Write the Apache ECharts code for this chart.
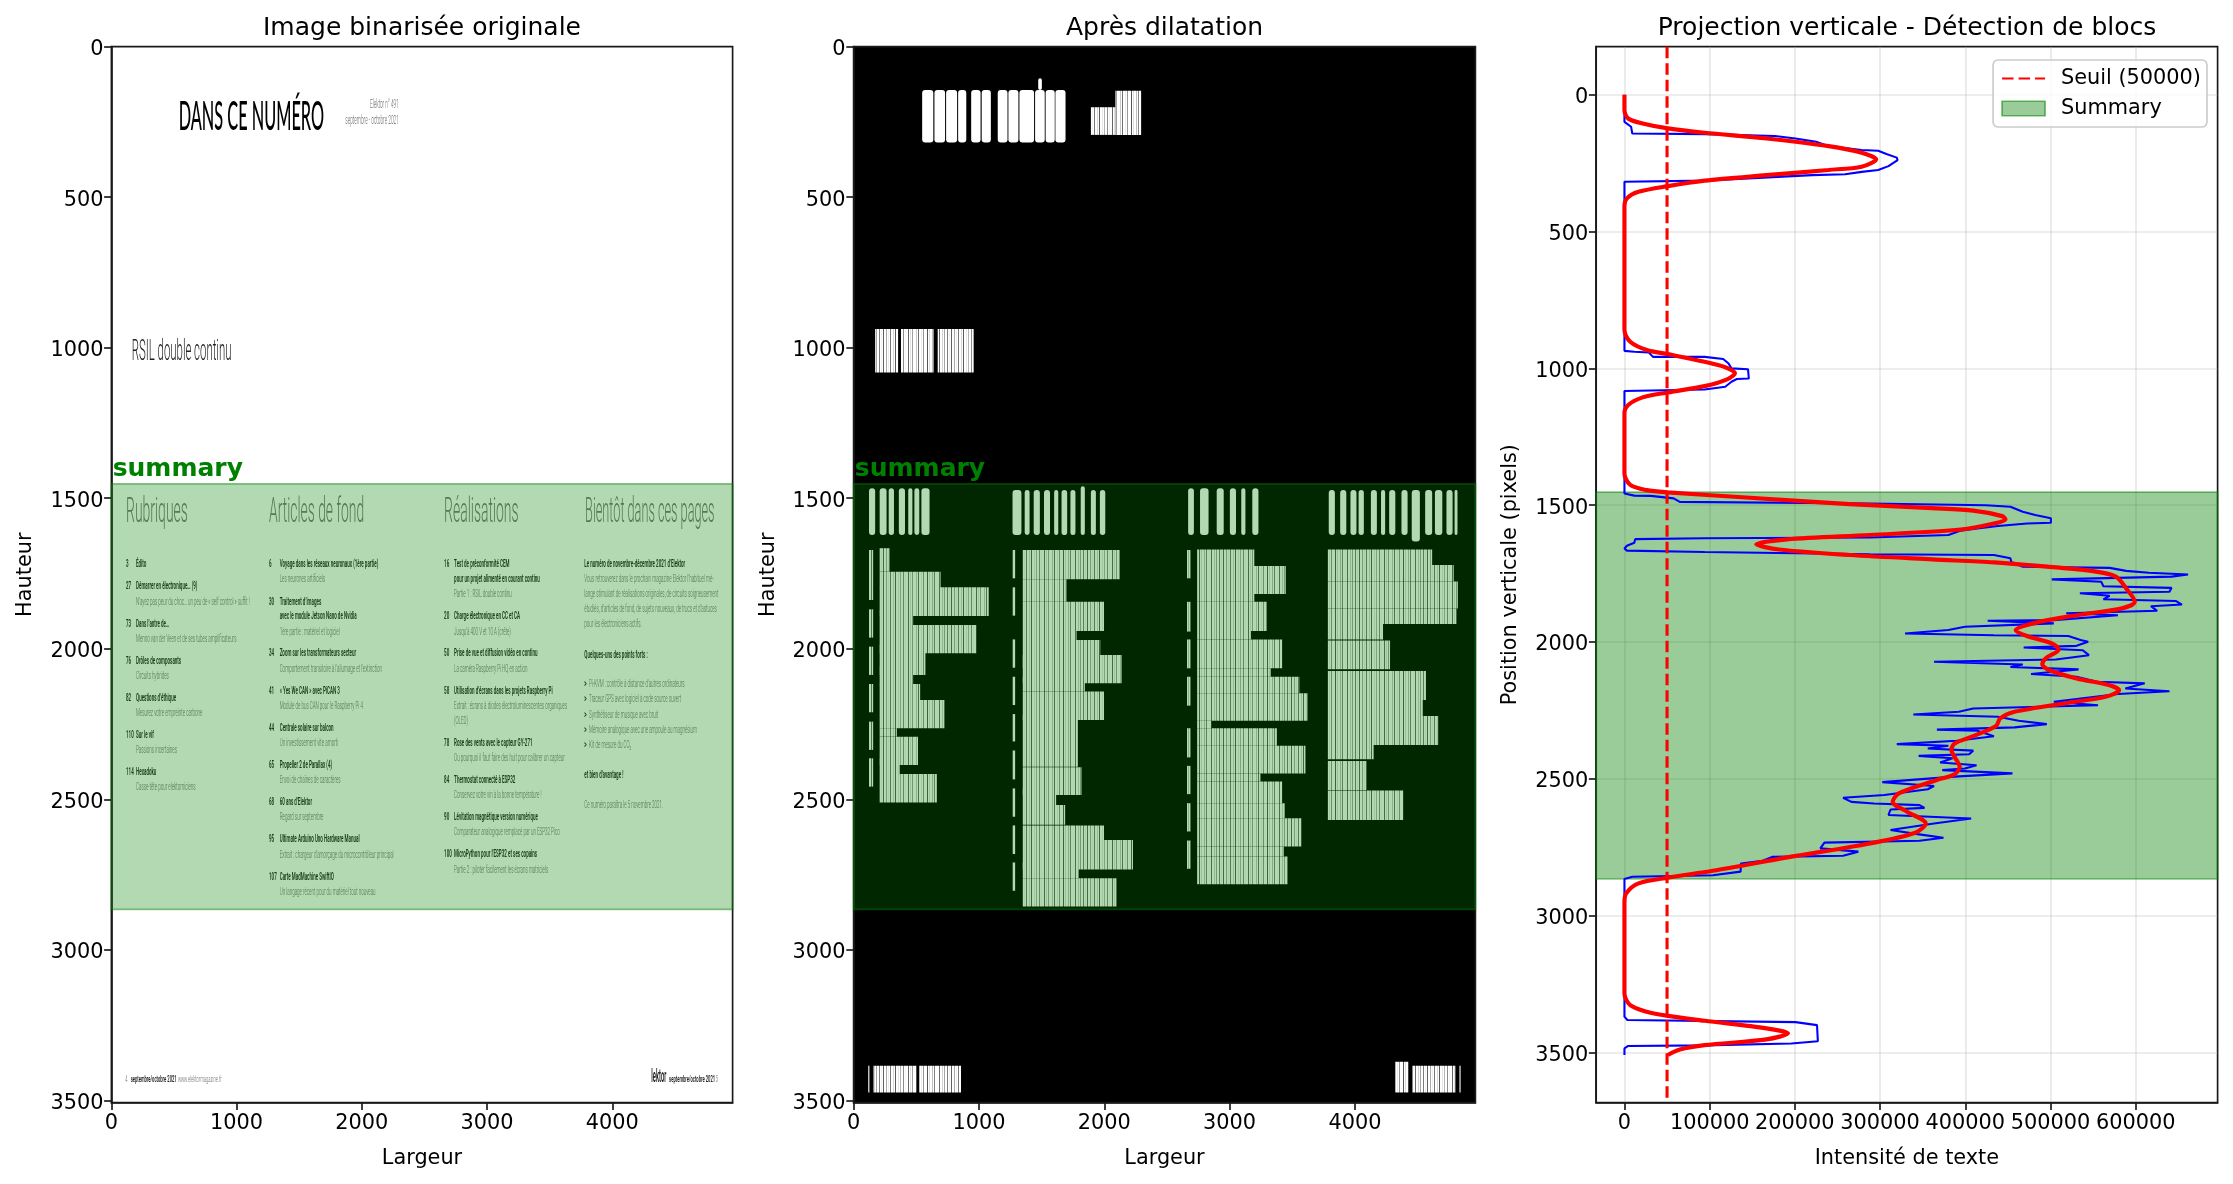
<!DOCTYPE html>
<html><head><meta charset="utf-8">
<style>html,body{margin:0;padding:0;background:#fff}#c{width:2233px;height:1184px}</style>
<script src="https://cdn.jsdelivr.net/npm/echarts@6/dist/echarts.min.js"></script>
</head><body><div id="c"></div>
<script>
const PAGE_W = 4961, PAGE_H = 3508;
const SUMMARY = [1452, 2866];
const THRESHOLD = 50000;
const pageXTicks = [0, 1000, 2000, 3000, 4000];
const pageYTicks = [0, 500, 1000, 1500, 2000, 2500, 3000, 3500];
const profXTicks = [0, 100000, 200000, 300000, 400000, 500000, 600000];
const profYTicks = [0, 500, 1000, 1500, 2000, 2500, 3000, 3500];
const PROF_X = [-33150, 696150];
const PROF_Y = [-175.4, 3683.4];

// Page text: [x, y centre, text, size in page units, kind, optional width factor]
const topTexts = [
  [537, 234, 'DANS CE NUMÉRO', 133, 'title', 0.98],
  [2295, 194, 'Elektor n° 491', 44, 'faintR', 0.86],
  [2295, 246, 'septembre - octobre 2021', 44, 'faintR', 0.86],
  [162, 1017, 'RSIL double continu', 98, 'rsil', 0.93]
];
const headings = [
  [117, 1551, 'Rubriques', 116, 'head', 0.96],
  [1259, 1551, 'Articles de fond', 116, 'head', 0.955],
  [2657, 1551, 'Réalisations', 116, 'head', 0.96],
  [3783, 1551, 'Bientôt dans ces pages', 116, 'head', 0.875]
];
const column1 = [
  [117,1720,'3',36,'bold'],[197,1720,'Édito',36,'bold'],
  [117,1794,'27',36,'bold'],[197,1794,'Démarrer en électronique… (9)',36,'bold'],
  [197,1844,'N’ayez pas peur du choc… un peu de « self control » suffit !',36,'sub'],
  [117,1918,'73',36,'bold'],[197,1918,'Dans l’antre de…',36,'bold'],
  [197,1969,'Menno van der Veen et de ses tubes amplificateurs',36,'sub'],
  [117,2041,'76',36,'bold'],[197,2041,'Drôles de composants',36,'bold'],
  [197,2090,'Circuits hybrides',36,'sub'],
  [117,2165,'82',36,'bold'],[197,2165,'Questions d’éthique',36,'bold'],
  [197,2214,'Mesurez votre empreinte carbone',36,'sub'],
  [117,2289,'110',36,'bold'],[197,2289,'Sur le vif',36,'bold'],
  [197,2337,'Passions incertaines',36,'sub'],
  [117,2411,'114',36,'bold'],[197,2411,'Hexadoku',36,'bold'],
  [197,2461,'Casse-tête pour elektorniciens',36,'sub']
];
const column2 = [
  [1259,1720,'6',36,'bold'],[1344,1720,'Voyage dans les réseaux neuronaux (1ère partie)',36,'bold'],
  [1344,1769,'Les neurones artificiels',36,'sub'],
  [1259,1844,'30',36,'bold'],[1344,1844,'Traitement d’images',36,'bold'],
  [1344,1893,'avec le module Jetson Nano de Nvidia',36,'bold'],
  [1344,1944,'1ère partie : matériel et logiciel',36,'sub'],
  [1259,2016,'34',36,'bold'],[1344,2016,'Zoom sur les transformateurs secteur',36,'bold'],
  [1344,2067,'Comportement transitoire à l’allumage et l’extinction',36,'sub'],
  [1259,2140,'41',36,'bold'],[1344,2140,'« Yes We CAN » avec PiCAN 3',36,'bold'],
  [1344,2190,'Module de bus CAN pour le Raspberry Pi 4',36,'sub'],
  [1259,2264,'44',36,'bold'],[1344,2264,'Centrale solaire sur balcon',36,'bold'],
  [1344,2314,'Un investissement vite amorti',36,'sub'],
  [1259,2387,'65',36,'bold'],[1344,2387,'Propeller 2 de Parallax (4)',36,'bold'],
  [1344,2437,'Envoi de chaînes de caractères',36,'sub'],
  [1259,2511,'68',36,'bold'],[1344,2511,'60 ans d’Elektor',36,'bold'],
  [1344,2561,'Regard sur septembre',36,'sub'],
  [1259,2634,'95',36,'bold'],[1344,2634,'Ultimate Arduino Uno Hardware Manual',36,'bold'],
  [1344,2685,'Extrait : chargeur d’amorçage du microcontrôleur principal',36,'sub'],
  [1259,2758,'107',36,'bold'],[1344,2758,'Carte MadMachine SwiftIO',36,'bold'],
  [1344,2809,'Un langage récent pour du matériel tout nouveau',36,'sub']
];
const column3 = [
  [2657,1720,'16',36,'bold'],[2737,1720,'Test de préconformité CEM',36,'bold'],
  [2737,1769,'pour un projet alimenté en courant continu',36,'bold'],
  [2737,1819,'Partie 1 : RSIL double continu',36,'sub'],
  [2657,1893,'20',36,'bold'],[2737,1893,'Charge électronique en CC et CA',36,'bold'],
  [2737,1944,'Jusqu’à 400 V et 10 A (crête)',36,'sub'],
  [2657,2016,'50',36,'bold'],[2737,2016,'Prise de vue et diffusion vidéo en continu',36,'bold'],
  [2737,2067,'La caméra Raspberry Pi HQ en action',36,'sub'],
  [2657,2140,'58',36,'bold'],[2737,2140,'Utilisation d’écrans dans les projets Raspberry Pi',36,'bold'],
  [2737,2190,'Extrait : écrans à diodes électroluminescentes organiques',36,'sub'],
  [2737,2241,'(OLED)',36,'sub'],
  [2657,2314,'78',36,'bold'],[2737,2314,'Rose des vents avec le capteur GY-271',36,'bold'],
  [2737,2364,'Ou pourquoi il faut faire des huit pour calibrer un capteur',36,'sub'],
  [2657,2437,'84',36,'bold'],[2737,2437,'Thermostat connecté à ESP32',36,'bold'],
  [2737,2487,'Conservez votre vin à la bonne température !',36,'sub'],
  [2657,2561,'90',36,'bold'],[2737,2561,'Lévitation magnétique version numérique',36,'bold'],
  [2737,2611,'Comparateur analogique remplacé par un ESP32 Pico',36,'sub'],
  [2657,2684,'100',36,'bold'],[2737,2684,'MicroPython pour l’ESP32 et ses copains',36,'bold'],
  [2737,2735,'Partie 2 : piloter facilement les écrans matriciels',36,'sub']
];
const column4 = [
  [3777,1720,'Le numéro de novembre-décembre 2021 d’Elektor',36,'bold'],
  [3777,1769,'Vous retrouverez dans le prochain magazine Elektor l’habituel mé-',36,'sub'],
  [3777,1819,'lange stimulant de réalisations originales, de circuits soigneusement',36,'sub'],
  [3777,1870,'étudiés, d’articles de fond, de sujets nouveaux, de trucs et d’astuces',36,'sub'],
  [3777,1920,'pour les électroniciens actifs.',36,'sub'],
  [3777,2021,'Quelques-uns des points forts :',36,'bold'],
  [3777,2118,'>',36,'bold'],[3815,2118,'Pi-KVM : contrôle à distance d’autres ordinateurs',36,'sub'],
  [3777,2169,'>',36,'bold'],[3815,2169,'Traceur GPS avec logiciel à code source ouvert',36,'sub'],
  [3777,2220,'>',36,'bold'],[3815,2220,'Synthétiseur de musique avec bruit',36,'sub'],
  [3777,2270,'>',36,'bold'],[3815,2270,'Mémoire analogique avec une ampoule au magnésium',36,'sub'],
  [3777,2320,'>',36,'bold'],[3815,2320,'Kit de mesure du CO₂',36,'sub'],
  [3777,2419,'et bien d’avantage !',36,'bold'],
  [3777,2519,'Ce numéro paraîtra le 5 novembre 2021.',36,'sub']
];
const footerTexts = [
  [110,3430,'4',33,'sub'],[154,3430,'septembre/octobre 2021',33,'bold'],[531,3430,'www.elektormagazine.fr',33,'sub'],
  [4312,3425,'lektor',62,'bold',0.75],[4454,3430,'septembre/octobre 2021',33,'bold'],[4827,3430,'5',33,'sub']
];
const pageTexts = [].concat(topTexts, headings, column1, column2, column3, column4, footerTexts);

// Dilated blocks: [x0, y0, x1, y1, kind] kind 0 = solid, 1 = striped
const dilatedTop = [
  [547,144,636,318,0],[645,144,730,318,0],[738,144,826,318,0],[834,144,899,318,0],
  [938,144,1013,318,0],[1022,144,1095,318,0],[1150,144,1228,318,0],[1235,144,1315,318,0],
  [1323,144,1440,318,0],[1448,144,1525,318,0],[1473,105,1502,144,0],[1532,144,1605,318,0],[1610,144,1691,318,0],
  [1893,201,2089,293,1],[2089,146,2294,293,1],
  [172,938,355,1082,1],[378,938,638,1082,1],[671,938,958,1082,1]
];
const dilatedHeaders = [
  [123,1467,172,1622,0],[208,1467,263,1622,0],[280,1467,322,1622,0],[361,1467,410,1622,0],[436,1467,469,1622,0],[485,1467,524,1622,0],[541,1467,606,1622,0],
  [1268,1473,1339,1622,0],[1365,1473,1404,1622,0],[1437,1473,1486,1622,0],[1519,1473,1567,1622,0],[1600,1473,1633,1622,0],[1659,1473,1704,1622,0],[1730,1473,1770,1622,0],[1812,1460,1845,1622,0],[1893,1473,1933,1622,0],[1965,1473,2008,1622,0],
  [2669,1467,2715,1622,0],[2764,1467,2832,1622,0],[2897,1467,2953,1622,0],[3002,1467,3051,1622,0],[3093,1467,3126,1622,0],[3181,1467,3230,1622,0],
  [3791,1473,3840,1622,0],[3882,1473,3931,1622,0],[3964,1473,4012,1622,0],[4029,1473,4071,1622,0],[4127,1473,4175,1622,0],[4208,1473,4241,1622,0],[4273,1473,4322,1622,0],[4371,1473,4420,1622,0],[4453,1473,4518,1644,0],[4560,1473,4616,1622,0],[4638,1473,4697,1622,0],[4730,1473,4779,1622,0],[4795,1473,4818,1622,0]
];
const dilatedCol1 = [
  [123,1672,156,1838,1],[123,1869,156,1963,1],[123,1993,156,2087,1],[123,2117,156,2211,1],[123,2242,156,2336,1],[123,2364,156,2458,1],
  [205,1666,286,1744,1],[205,1744,694,1799,1],[205,1796,1078,1891,1],[205,1871,475,1921,1],[205,1921,981,2015,1],[205,1987,573,2087,1],[205,2059,475,2120,1],[205,2117,531,2170,1],[205,2170,726,2264,1],[205,2264,345,2292,1],[205,2292,514,2386,1],[205,2364,368,2416,1],[205,2416,664,2511,1]
];
const dilatedCol2 = [
  [1268,1672,1290,1766,1],[1268,1796,1290,1890,1],[1268,1969,1290,2063,1],[1268,2093,1290,2187,1],[1268,2217,1290,2308,1],[1268,2338,1290,2434,1],[1268,2464,1290,2558,1],[1268,2587,1290,2682,1],[1268,2710,1290,2804,1],
  [1349,1672,2122,1769,1],[1349,1769,1698,1844,1],[1349,1844,1998,1941,1],[1349,1941,1779,1971,1],[1349,1971,1968,2065,1],[1349,2021,2138,2115,1],[1349,2093,1845,2142,1],[1349,2142,1998,2237,1],[1349,2220,1789,2392,1],[1349,2394,1818,2486,1],[1349,2464,1616,2519,1],[1349,2519,1688,2585,1],[1349,2587,1998,2635,1],[1349,2635,2229,2733,1],[1349,2710,1796,2762,1],[1349,2762,2099,2856,1]
];
const dilatedCol3 = [
  [2660,1672,2692,1766,1],[2660,1844,2692,1943,1],[2660,1969,2692,2065,1],[2660,2093,2692,2189,1],[2660,2264,2692,2361,1],[2660,2389,2692,2483,1],[2660,2513,2692,2607,1],[2660,2637,2692,2731,1],
  [2741,1670,3197,1725,1],[2741,1725,3448,1818,1],[2741,1818,3197,1844,1],[2741,1844,3295,1941,1],[2741,1941,3171,1969,1],[2741,1969,3419,2065,1],[2741,2065,3328,2093,1],[2741,2093,3556,2148,1],[2741,2148,3621,2239,1],[2741,2239,2855,2264,1],[2741,2264,3377,2322,1],[2741,2322,3605,2414,1],[2741,2414,3246,2441,1],[2741,2441,3419,2513,1],[2741,2513,3442,2563,1],[2741,2563,3572,2657,1],[2741,2657,3432,2690,1],[2741,2690,3465,2782,1]
];
const dilatedCol4 = [
  [3784,1670,4616,1722,1],[3784,1722,4788,1777,1],[3784,1777,4821,1866,1],[3784,1866,4811,1918,1],[3784,1918,4224,1969,1],[3784,1973,4280,2068,1],[3784,2074,4567,2170,1],[3784,2170,4541,2223,1],[3784,2223,4664,2320,1],[3784,2320,4149,2367,1],[3784,2373,4094,2469,1],[3784,2471,4387,2569,1]
];
const dilatedFooter = [
  [117,3385,126,3474,1],[159,3385,501,3474,1],[524,3385,857,3474,1],
  [4322,3372,4426,3474,1],[4459,3385,4801,3474,1],[4834,3385,4844,3474,1]
];
const dilated = [].concat(dilatedTop, dilatedHeaders, dilatedCol1, dilatedCol2, dilatedCol3, dilatedCol4, dilatedFooter);

// Raw projection
const rawIntensity = [0,0,2000,7800,9200,94000,176500,200800,225000,239600,278400,297800,307500,319600,320600,309900,297800,278400,259000,220200,94100,0,0,11600,28600,33500,94100,115900,122200,125600,145000,146000,131900,125600,118300,94100,0,0,11600,31000,57700,65000,
 288000,424000,453000,467500,482100,500500,500500,472400,438400,414200,394800,380200,288000,94100,12600,11600,2900,0,2900,94100,288000,433600,453000,453900,467500,569400,588800,615500,661500,642100,501500,559700,562100,642100,639700,534500,569400,562100,647000,654300,617900,625200,518500,579100,503900,426300,503900,399600,380200,329300,433600,520900,535400,544200,530600,468500,537900,545100,506300,363300,467500,453000,533000,477200,530600,554800,610600,587800,639700,579100,503900,555800,409300,392400,339000,438400,462700,495700,457800,366700,414200,433600,389900,319600,380200,356000,409300,404500,345300,385100,370500,413200,399600,373000,455400,
 387500,302600,363300,356000,305100,256600,266300,292900,346300,352100,312300,309900,406900,363300,312300,343900,374400,346300,234700,229900,274500,256600,174100,162000,136800,136300,103800,9200,0,0,3400,200800,226000,227000,195900,94100,4400,0,0];
const rawPosition = [0,99,105,117,142,144,151,160,172,188,202,205,217,230,239,261,275,282,291,294,314,318,936,939,942,958,958,966,982,1000,1003,1037,1039,1049,1067,1077,1083,1457,1465,1466,1475,1488,
 1494,1500,1506,1524,1536,1548,1564,1567,1576,1585,1593,1609,1618,1621,1624,1637,1648,1658,1666,1671,1679,1682,1694,1707,1725,1729,1740,1747,1753,1761,1771,1780,1796,1802,1816,1822,1831,1844,1850,1863,1869,1886,1895,1902,1920,1922,1932,1944,1956,1969,1975,1978,1993,1999,2014,2020,2030,2048,2064,2072,2082,2091,2100,2117,2127,2145,2151,2170,2180,2190,2218,2231,2243,2255,2265,2273,2288,2300,2312,2320,2324,2344,2361,2373,2379,2389,2397,2410,2416,2425,2440,2450,2462,2468,2480,
 2492,2512,2526,2538,2559,2569,2584,2590,2596,2606,2612,2632,2645,2663,2687,2702,2715,2726,2733,2754,2766,2781,2785,2799,2809,2839,2852,2858,2866,3369,3381,3389,3400,3459,3467,3474,3476,3485,3509];
// Smoothed projection
const smoothIntensity = [0,0,4400,21300,51000,94100,166800,239600,278400,295400,278400,239600,166800,94100,51000,16500,2900,0,0,6800,26200,51000,94100,118300,129700,118300,94100,51000,21300,4400,0,0,6800,26200,51000,
 142600,264000,360900,409300,443300,447200,433600,394800,288000,191000,154700,181400,264000,360900,433600,482100,550000,576700,588800,599000,584000,530600,482100,459200,472400,501500,509800,494300,490400,499100,530600,569400,580600,564600,520900,457800,441000,436100,409300,387500,383600,387500,393400,387500,365700,
 322000,314800,331800,353600,341400,288100,191000,103800,51000,16500,1900,0,0,6800,26200,51000,94100,166800,192000,166800,94100,65000,51000];
const smoothPosition = [0,56,87,105,123,139,160,188,212,236,263,275,294,314,334,355,379,410,860,903,933,948,976,996,1018,1043,1065,1088,1106,1134,1165,1384,1426,1445,1453,
 1472,1496,1511,1520,1540,1552,1567,1589,1609,1625,1643,1662,1682,1698,1709,1721,1741,1761,1804,1853,1877,1902,1930,1957,1978,2005,2027,2060,2081,2103,2133,2158,2176,2200,2222,2255,2279,2307,2344,2371,2395,2420,2456,2483,2505,
 2553,2584,2620,2663,2697,2736,2787,2836,2861,2882,2919,2955,3284,3327,3351,3366,3384,3412,3430,3452,3473,3489,3509];

const zip = (a, b) => a.map((v, i) => [v, b[i]]);
const FONT = '"DejaVu Sans"';
const INK = '#1a1a1a';
const FS = 20.83, TS = 25;

// Vertical streak texture for the dilated blocks
const streakLevels = [255,255,170,255,240,255,120,255,255,215,255,90,255,255,230,255,180,255,255,140,255,245,255,255,100,255,225,255,160,255,255,255,
  200,255,110,255,255,235,255,150,255,255,255,85,255,220,255,255,190,255,130,255,255,250,255,105,255,255,210,255,165,255,255,125,255,240,255,95];
const streak = document.createElement('canvas');
streak.width = streakLevels.length; streak.height = 2;
const sctx = streak.getContext('2d');
streakLevels.forEach((v, i) => { sctx.fillStyle = `rgb(${v},${v},${v})`; sctx.fillRect(i, 0, 1, 2); });

const textStyles = {
  title:  {w: 500, f: 'Lato', c: '#000', a: 'left'},
  faintR: {w: 300, f: 'Roboto', c: '#666', a: 'right'},
  rsil:   {w: 300, f: 'Roboto', c: '#222', a: 'left'},
  head:   {w: 300, f: 'Roboto', c: '#777', a: 'left'},
  bold:   {w: 600, f: 'Roboto', c: '#222', a: 'left'},
  sub:    {w: 300, f: 'Roboto', c: '#666', a: 'left'}
};

function summaryRect(alpha) {
  return function (params, api) {
    const a = api.coord([api.value(0), api.value(1)]);
    const b = api.coord([api.value(2), api.value(3)]);
    return {type: 'rect', shape: {x: a[0], y: a[1], width: b[0] - a[0], height: b[1] - a[1]},
      style: {fill: `rgba(0,128,0,${alpha})`, stroke: 'rgba(0,128,0,0.45)', lineWidth: 1.67}};
  };
}
function summaryLabel(params, api) {
  const p = api.coord([api.value(0), api.value(1)]);
  return {type: 'text', x: p[0], y: p[1], style: {text: 'summary', x: 0, y: 0, font: `bold ${TS}px ${FONT}`, fill: '#008000', align: 'left', verticalAlign: 'bottom'}};
}
const cartAxisCommon = {
  axisLine: {show: true, onZero: false, lineStyle: {color: INK, width: 1.67}},
  nameLocation: 'middle', nameTextStyle: {fontFamily: FONT, fontSize: FS, color: '#000'}
};
const tickOf = vals => ({show: true, length: 7.3, customValues: vals, lineStyle: {color: INK, width: 1.67}});
function labelOf(vals, isY) {
  const base = {show: true, customValues: vals, margin: isY ? 8 : 10, fontFamily: FONT, fontSize: FS, color: '#000', hideOverlap: false, showMinLabel: true, showMaxLabel: true};
  if (isY) {
    base.formatter = v => '{t|' + v + '}';
    base.rich = {t: {fontFamily: FONT, fontSize: FS, color: '#000', padding: [6, 0, 0, 0]}};
  } else {
    base.formatter = v => String(v);
  }
  return base;
}
function pageXAxis(i) {
  return Object.assign({}, cartAxisCommon, {gridIndex: i, type: 'value', min: 0, max: PAGE_W, interval: 1000,
    name: 'Largeur', nameGap: 45, splitLine: {show: false}, axisTick: tickOf(pageXTicks), axisLabel: labelOf(pageXTicks, false)});
}
function pageYAxis(i) {
  return Object.assign({}, cartAxisCommon, {gridIndex: i, type: 'value', min: 0, max: PAGE_H, interval: 500, inverse: true,
    name: 'Hauteur', nameGap: 75, splitLine: {show: false}, axisTick: tickOf(pageYTicks), axisLabel: labelOf(pageYTicks, true)});
}
const gridLine = {show: true, lineStyle: {color: 'rgba(176,176,176,0.3)', width: 1.67}};
const titleStyle = {fontFamily: FONT, fontSize: TS, fontWeight: 'normal', color: '#000'};

const option = {
  animation: false,
  backgroundColor: '#fff',
  title: [
    {text: 'Image binarisée originale', left: 422, top: 15.5, padding: 0, textAlign: 'center', textStyle: titleStyle},
    {text: 'Après dilatation', left: 1164.5, top: 15.5, padding: 0, textAlign: 'center', textStyle: titleStyle},
    {text: 'Projection verticale - Détection de blocs', left: 1907, top: 15.5, padding: 0, textAlign: 'center', textStyle: titleStyle}
  ],
  grid: [
    {left: 111.4, top: 46.7, width: 621.2, height: 1056, show: true, backgroundColor: '#fff', borderColor: INK, borderWidth: 1.67},
    {left: 853.6, top: 46.7, width: 621.8, height: 1056, show: true, backgroundColor: '#000', borderColor: INK, borderWidth: 1.67},
    {left: 1596.2, top: 46.7, width: 621.4, height: 1056, show: true, backgroundColor: '#fff', borderColor: INK, borderWidth: 1.67}
  ],
  xAxis: [pageXAxis(0), pageXAxis(1),
    Object.assign({}, cartAxisCommon, {gridIndex: 2, type: 'value', min: PROF_X[0], max: PROF_X[1], interval: 100000,
      name: 'Intensité de texte', nameGap: 45, splitLine: gridLine, axisTick: tickOf(profXTicks), axisLabel: labelOf(profXTicks, false)})],
  yAxis: [pageYAxis(0), pageYAxis(1),
    Object.assign({}, cartAxisCommon, {gridIndex: 2, type: 'value', min: PROF_Y[0], max: PROF_Y[1], interval: 500, inverse: true,
      name: 'Position verticale (pixels)', nameGap: 75, splitLine: gridLine, axisTick: tickOf(profYTicks), axisLabel: labelOf(profYTicks, true)})],
  legend: {
    right: 26, top: 60, orient: 'vertical', align: 'left', padding: [8, 6, 8, 8],
    backgroundColor: 'rgba(255,255,255,0.8)', borderColor: '#ccc', borderWidth: 1.67, borderRadius: 5,
    itemWidth: 43, itemHeight: 14.5, itemGap: 9,
    textStyle: {fontFamily: FONT, fontSize: FS, color: '#000', padding: [0, 0, 0, 11]},
    selectedMode: false, z: 20,
    data: [
      {name: 'Seuil (50000)', itemStyle: {color: 'transparent', borderColor: 'transparent', borderWidth: 0}},
      {name: 'Summary', icon: 'rect', itemStyle: {color: 'rgba(0,128,0,0.4)', borderColor: 'rgba(0,128,0,0.55)', borderWidth: 1.67}}
    ]
  },
  series: [
    {type: 'custom', name: 'page', xAxisIndex: 0, yAxisIndex: 0, z: 2, silent: true,
      encode: {x: 0, y: 1},
      data: pageTexts.map(t => [t[0], t[1]]),
      renderItem: function (params, api) {
        const t = pageTexts[params.dataIndex], s = textStyles[t[4]];
        const p = api.coord([t[0], t[1]]);
        const unitX = api.size([1, 0])[0], unitY = api.size([0, 1])[1];
        return {type: 'text', x: p[0], y: p[1], scaleX: unitX / unitY * (t[5] || 1),
          style: {text: t[2], x: 0, y: 0, font: `${s.w} ${t[3] * unitY}px ${s.f}`, fill: s.c, align: s.a, verticalAlign: 'middle'}};
      }},
    {type: 'custom', name: 'summaryPage', xAxisIndex: 0, yAxisIndex: 0, z: 3, silent: true,
      encode: {x: [0, 2], y: [1, 3]}, data: [[0, SUMMARY[0], PAGE_W, SUMMARY[1]]], renderItem: summaryRect(0.3)},
    {type: 'custom', name: 'dilated', xAxisIndex: 1, yAxisIndex: 1, z: 2, silent: true,
      encode: {x: [0, 2], y: [1, 3]},
      data: dilated.map(d => d.slice(0, 4)),
      renderItem: function (params, api) {
        const d = dilated[params.dataIndex];
        const a = api.coord([d[0], d[1]]), b = api.coord([d[2], d[3]]);
        return {type: 'rect', shape: {x: a[0], y: a[1], width: b[0] - a[0], height: b[1] - a[1], r: d[4] ? 0 : 3},
          style: {fill: d[4] ? {image: streak, repeat: 'repeat'} : '#fff'}};
      }},
    {type: 'custom', name: 'summaryDilated', xAxisIndex: 1, yAxisIndex: 1, z: 3, silent: true,
      encode: {x: [0, 2], y: [1, 3]}, data: [[0, SUMMARY[0], PAGE_W, SUMMARY[1]]], renderItem: summaryRect(0.3)},
    {type: 'custom', name: 'summaryLabel1', xAxisIndex: 0, yAxisIndex: 0, z: 4, silent: true,
      encode: {x: 0, y: 1}, data: [[10, 1447]], renderItem: summaryLabel},
    {type: 'custom', name: 'summaryLabel2', xAxisIndex: 1, yAxisIndex: 1, z: 4, silent: true,
      encode: {x: 0, y: 1}, data: [[10, 1447]], renderItem: summaryLabel},
    {type: 'custom', name: 'Summary', xAxisIndex: 2, yAxisIndex: 2, z: 1, silent: true,
      encode: {x: [0, 2], y: [1, 3]}, itemStyle: {color: 'rgba(0,128,0,0.4)'},
      data: [[PROF_X[0], SUMMARY[0], PROF_X[1], SUMMARY[1]]], renderItem: summaryRect(0.4)},
    {type: 'line', name: 'Projection', xAxisIndex: 2, yAxisIndex: 2, z: 3, silent: true, symbol: 'none',
      lineStyle: {color: '#0000ff', width: 2.08}, data: zip(rawIntensity, rawPosition)},
    {type: 'line', name: 'Lissée', xAxisIndex: 2, yAxisIndex: 2, z: 4, silent: true, symbol: 'none', smooth: 0.3,
      lineStyle: {color: '#ff0000', width: 4.17}, data: zip(smoothIntensity, smoothPosition)},
    {type: 'line', name: 'Seuil (50000)', xAxisIndex: 2, yAxisIndex: 2, z: 5, silent: true, symbol: 'none',
      itemStyle: {color: '#ff0000'},
      lineStyle: {color: '#ff0000', width: 3.1, type: [11.5, 5]},
      data: [[THRESHOLD, PROF_Y[0]], [THRESHOLD, PROF_Y[1]]]}
  ]
};
const chart = echarts.init(document.getElementById('c'), null, {renderer: 'canvas'});
chart.setOption(option);
</script></body></html>
